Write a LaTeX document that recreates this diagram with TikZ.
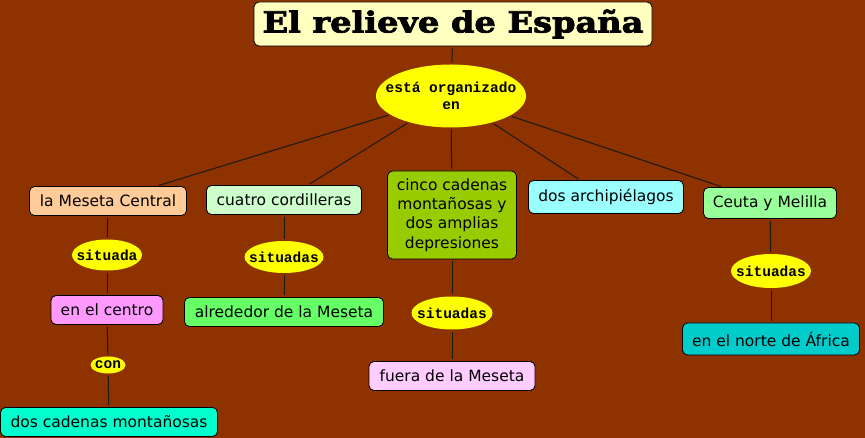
\documentclass[tikz,border=0pt]{standalone}
\usepackage{fontspec}
\setmainfont{DejaVu Sans}
\newfontfamily\titlefont[BoldFeatures={FakeBold=2.5}]{DejaVu Serif}
\newfontfamily\linkfont{Liberation Mono}
\usetikzlibrary{shapes.geometric}
\definecolor{mapbrown}{RGB}{142, 50, 0}
\definecolor{titlecream}{RGB}{255, 255, 192}
\definecolor{linkyellow}{RGB}{255, 255, 0}
\definecolor{peach}{RGB}{255, 204, 153}
\definecolor{palegreen}{RGB}{204, 255, 204}
\definecolor{olivegreen}{RGB}{153, 204, 0}
\definecolor{palecyan}{RGB}{153, 255, 255}
\definecolor{mintgreen}{RGB}{153, 255, 153}
\definecolor{pink}{RGB}{255, 153, 255}
\definecolor{brightgreen}{RGB}{102, 255, 102}
\definecolor{palepink}{RGB}{255, 204, 255}
\definecolor{teal}{RGB}{0, 204, 204}
\definecolor{aqua}{RGB}{0, 255, 204}
\newcommand{\lk}[1]{\makebox[0pt]{#1}}

\begin{document}
\begin{tikzpicture}[
  x=1pt, y=-1pt,
  every node/.style={inner sep=0pt},
  concept/.style={draw=black, line width=0.8pt, rounded corners=5pt, align=center, font=\fontsize{15.5}{19.3}\selectfont},
  link/.style={ellipse, fill=linkyellow, align=center, font=\linkfont\bfseries\fontsize{14.5}{17}\selectfont},
  conn/.style={line width=1pt, black!90, shorten >=2pt, shorten <=2pt}
]
  \fill[mapbrown] (0,0) rectangle (865,438);

  % title and first link
  \node[concept, fill=titlecream, minimum width=398, minimum height=44, font=\titlefont\bfseries\fontsize{27}{30}\selectfont] (title) at (453,24) {\resizebox*{381pt}{29pt}{El relieve de España}};
  \node[link, minimum width=150, minimum height=63] (org) at (451,96) {\lk{está organizado}\\\lk{en}};

  % main concepts
  \node[concept, fill=peach, minimum width=157, minimum height=29] (meseta) at (108,201) {la Meseta Central};
  \node[concept, fill=palegreen, minimum width=155, minimum height=29] (cordil) at (284,200) {cuatro cordilleras};
  \node[concept, fill=olivegreen, minimum width=129, minimum height=88] (cinco) at (452,215) {cinco cadenas\\montañosas y\\dos amplias\\depresiones};
  \node[concept, fill=palecyan, minimum width=155, minimum height=33] (archi) at (606,197) {dos archipiélagos};
  \node[concept, fill=mintgreen, minimum width=133, minimum height=31] (ceuta) at (770,203) {Ceuta y Melilla};

  % linking words
  \node[link, minimum width=70, minimum height=31] (sit1) at (107,255) {\lk{situada}};
  \node[link, minimum width=79, minimum height=32] (sit2) at (284,257) {\lk{situadas}};
  \node[link, minimum width=81, minimum height=33] (sit3) at (452,313) {\lk{situadas}};
  \node[link, minimum width=80, minimum height=34] (sit4) at (771,271) {\lk{situadas}};
  \node[link, minimum width=35, minimum height=17] (con) at (108,365) {\lk{con}};

  % second level
  \node[concept, fill=pink, minimum width=112, minimum height=29] (centro) at (107,310) {en el centro};
  \node[concept, fill=brightgreen, minimum width=199, minimum height=29] (alred) at (284,312) {alrededor de la Meseta};
  \node[concept, fill=palepink, minimum width=166, minimum height=29] (fuera) at (452,376) {fuera de la Meseta};
  \node[concept, fill=teal, minimum width=177, minimum height=32] (norte) at (771,339) {en el norte de África};
  \node[concept, fill=aqua, minimum width=217, minimum height=29] (doscad) at (109,422) {dos cadenas montañosas};

  \draw[conn] (title) -- (org);
  \draw[conn] (org) -- (meseta);
  \draw[conn] (org) -- (cordil);
  \draw[conn] (org) -- (cinco);
  \draw[conn] (org) -- (archi);
  \draw[conn] (org) -- (ceuta);
  \draw[conn] (meseta) -- (sit1);
  \draw[conn] (sit1) -- (centro);
  \draw[conn] (centro) -- (con);
  \draw[conn] (con) -- (doscad);
  \draw[conn] (cordil) -- (sit2);
  \draw[conn] (sit2) -- (alred);
  \draw[conn] (cinco) -- (sit3);
  \draw[conn] (sit3) -- (fuera);
  \draw[conn] (ceuta) -- (sit4);
  \draw[conn] (sit4) -- (norte);
\end{tikzpicture}
\end{document}
